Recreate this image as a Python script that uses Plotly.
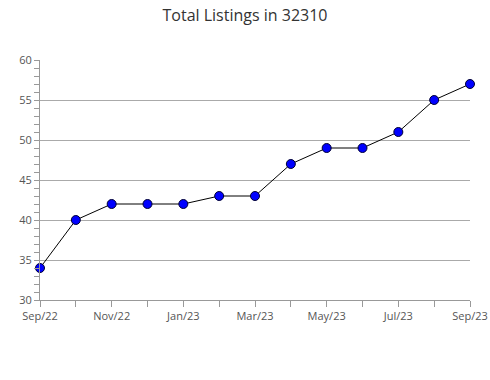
import plotly.graph_objects as go

months = ["Sep/22", "Oct/22", "Nov/22", "Dec/22", "Jan/23", "Feb/23", "Mar/23",
          "Apr/23", "May/23", "Jun/23", "Jul/23", "Aug/23", "Sep/23"]
listings = [34, 40, 42, 42, 42, 43, 43, 47, 49, 49, 51, 55, 57]
y_ticks = [30, 35, 40, 45, 50, 55, 60]

x_idx = list(range(len(months)))
label_idx = x_idx[::2]
label_txt = [months[i] for i in label_idx]

fig = go.Figure()
fig.add_trace(go.Scatter(
    x=x_idx, y=listings, mode="lines+markers",
    line=dict(color="black", width=1),
    marker=dict(symbol="circle", size=9, color="#0000ff",
                line=dict(color="#000033", width=1)),
    cliponaxis=False, hoverinfo="skip",
))

fig.update_layout(
    width=490, height=380,
    margin=dict(l=40, r=20, t=60, b=80, autoexpand=False),
    paper_bgcolor="white", plot_bgcolor="white",
    font=dict(family="Open Sans", color="#555555", size=11),
    title=dict(text="Total Listings in 32310", x=0.5, xanchor="center",
               y=0.96, yanchor="middle",
               font=dict(family="Open Sans", size=16, color="#333333")),
    showlegend=False,
)
fig.update_xaxes(
    range=[0, 12], tickvals=label_idx, ticktext=label_txt, automargin=False,
    showgrid=False, zeroline=False,
    showline=True, linecolor="#999999", linewidth=1,
    ticks="outside", ticklen=6, tickcolor="#999999",
    minor=dict(dtick=1, tick0=0, ticks="outside", ticklen=6, tickcolor="#999999", showgrid=False),
    tickfont=dict(size=11, color="#555555"),
)
fig.update_yaxes(
    range=[30, 60], tickvals=y_ticks, automargin=False,
    showgrid=True, gridcolor="#aaaaaa", gridwidth=1, zeroline=False,
    showline=True, linecolor="#999999", linewidth=1,
    ticks="outside", ticklen=5, tickcolor="#999999",
    minor=dict(dtick=1, tick0=30, ticks="outside", ticklen=5, tickcolor="#999999", showgrid=False),
    tickfont=dict(size=11, color="#555555"),
)

fig.write_html("out.html")
